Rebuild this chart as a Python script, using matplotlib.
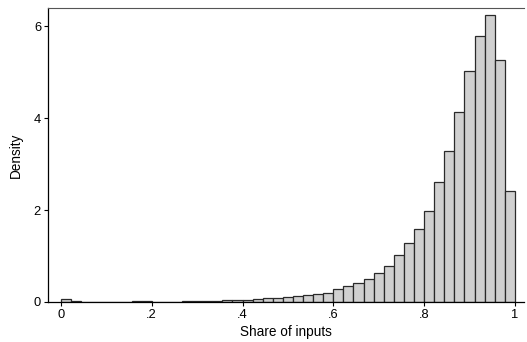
import numpy as np
from matplotlib import pyplot as plt

plt.rcParams['font.family'] = ['Liberation Sans', 'DejaVu Sans']

# histogram of share of inputs, 45 bins on [0, 1]
n_bins = 45
density = [0.06, 0.02, 0.01, 0.01, 0.01, 0.01, 0.01, 0.02, 0.02, 0.01,
           0.01, 0.01, 0.02, 0.02, 0.02, 0.03, 0.04, 0.05, 0.05, 0.07,
           0.08, 0.08, 0.11, 0.12, 0.16, 0.17, 0.20, 0.28, 0.35, 0.42,
           0.51, 0.62, 0.79, 1.02, 1.29, 1.59, 1.97, 2.62, 3.28, 4.14,
           5.02, 5.79, 6.25, 5.26, 2.42]
xticks = [0, 0.2, 0.4, 0.6, 0.8, 1]
xtick_labels = ['0', '.2', '.4', '.6', '.8', '1']
yticks = [0, 2, 4, 6]

edges = np.linspace(0, 1, n_bins + 1)

fig = plt.figure(figsize=(5.27, 3.42), dpi=100)
ax = fig.add_axes([0.091, 0.117, 0.903, 0.860])

ax.bar(edges[:-1], density, width=1.0 / n_bins, align='edge',
       color='#d0d0d0', edgecolor='#2a2a2a', linewidth=0.9)

ax.set_xlim(-0.0286, 1.0198)
ax.set_ylim(0, 6.4)
ax.set_xticks(xticks)
ax.set_xticklabels(xtick_labels)
ax.set_yticks(yticks)
ax.tick_params(direction='out', length=3, width=0.8, labelsize=9.3, pad=2)

ax.spines['right'].set_visible(False)
ax.spines['top'].set_color('#555555')
for s in ['left', 'bottom']:
    ax.spines[s].set_linewidth(0.9)

ax.set_xlabel('Share of inputs', fontsize=9.8, labelpad=3)
ax.set_ylabel('Density', fontsize=9.8, labelpad=8)

fig.savefig('out.png', dpi=100)
